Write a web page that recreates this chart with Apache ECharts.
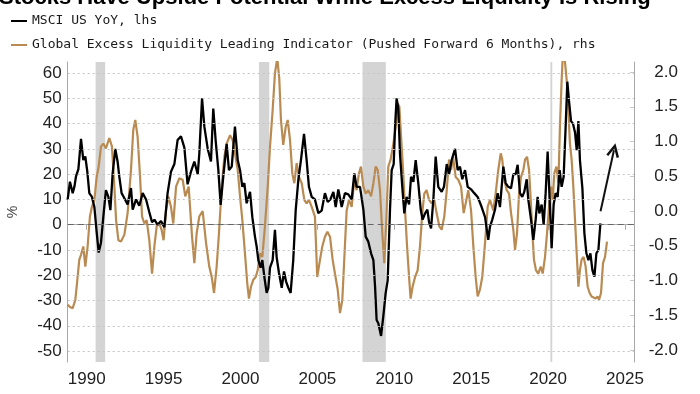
<!DOCTYPE html>
<html><head><meta charset="utf-8">
<script src="https://cdn.jsdelivr.net/npm/echarts@6/dist/echarts.min.js"></script>
<style>html,body{margin:0;padding:0;background:#fff}#c{width:700px;height:394px}</style>
</head><body><div id="c"></div>
<script>
const titleText = 'Stocks Have Upside Potential While Excess Liquidity Is Rising';
const seriesNames = ['MSCI US YoY, lhs', 'Global Excess Liquidity Leading Indicator (Pushed Forward 6 Months), rhs'];
const xTicks = [1990, 1995, 2000, 2005, 2010, 2015, 2020, 2025];
const leftTicks = [-50, -40, -30, -20, -10, 0, 10, 20, 30, 40, 50, 60];
const rightTicks = [-2.0, -1.5, -1.0, -0.5, 0.0, 0.5, 1.0, 1.5, 2.0];
const recessions = [[1990.58, 1991.2], [2001.2, 2001.87], [2007.93, 2009.45], [2020.15, 2020.27]];
const arrowFrom = [2023.41, 5.3];
const arrowTo = [2024.28, 29.5];

// MSCI US YoY (%), [year, value]
const msciData = [
[1988.76,9.8],[1988.91,17],[1989.09,12.5],[1989.20,15],[1989.30,19],[1989.46,22],[1989.63,34],[1989.78,25.6],[1989.91,27],[1990.04,21],
[1990.17,12.5],[1990.34,11],[1990.50,7],[1990.65,-3],[1990.78,-11],[1990.93,-7],[1991.08,3],[1991.25,13.7],[1991.41,11],[1991.54,5.8],
[1991.69,20.4],[1991.86,30],[1992.01,25],[1992.12,19],[1992.27,12.5],[1992.45,10.5],[1992.66,8],[1992.88,14.5],[1992.99,6],[1993.21,10],
[1993.42,7.5],[1993.64,12.5],[1993.86,10],[1994.07,5],[1994.25,1],[1994.40,2],[1994.61,0],[1994.83,1.5],[1995.05,-1],[1995.26,12.5],
[1995.48,21],[1995.70,24],[1995.91,33.5],[1996.13,35],[1996.35,30.5],[1996.56,16],[1996.78,21],[1997.00,25],[1997.22,20],[1997.32,28],
[1997.50,50],[1997.65,38.8],[1997.87,30],[1998.08,25],[1998.23,46],[1998.39,33],[1998.56,21.6],[1998.71,7.8],[1998.88,19],[1999.10,32],
[1999.25,21.6],[1999.43,23],[1999.64,38.8],[1999.82,25.6],[1999.97,21.6],[2000.12,15],[2000.25,16.5],[2000.40,8.5],[2000.62,13],[2000.77,3],
[2000.94,-4.7],[2001.05,-8.6],[2001.16,-14],[2001.31,-17],[2001.42,-14],[2001.55,-20.6],[2001.70,-27],[2001.81,-25],[2001.92,-17],[2002.09,-14],
[2002.24,-2],[2002.35,-12.8],[2002.50,-19],[2002.68,-25],[2002.83,-18.5],[2002.96,-22.4],[2003.11,-25],[2003.26,-27],[2003.43,-14],[2003.59,5.8],
[2003.76,17.7],[2003.93,25.6],[2004.13,36],[2004.30,25.6],[2004.45,15],[2004.63,11],[2004.84,10],[2005.06,4.6],[2005.28,5.6],[2005.49,12.5],
[2005.67,9],[2005.84,10],[2006.04,13],[2006.19,7],[2006.36,14],[2006.58,7],[2006.79,12.5],[2007.01,12],[2007.23,10],[2007.40,20.3],
[2007.55,15],[2007.77,15],[2007.99,6],[2008.14,-4.7],[2008.31,-6.7],[2008.49,-11.3],[2008.64,-14],[2008.75,-24.5],[2008.85,-37.7],[2008.96,-39],
[2009.14,-44],[2009.29,-36],[2009.44,-27],[2009.57,-22],[2009.72,5.8],[2009.83,21.6],[2009.96,24],[2010.05,38.8],[2010.15,50],[2010.26,46],
[2010.37,28],[2010.52,15],[2010.65,4.5],[2010.80,11],[2010.96,8],[2011.09,19],[2011.24,17],[2011.39,25.6],[2011.56,16.5],[2011.72,6],
[2011.84,2],[2012.00,4.5],[2012.15,6],[2012.26,1],[2012.39,-1.5],[2012.54,10],[2012.69,27],[2012.86,15],[2013.08,13],[2013.23,15],
[2013.41,24],[2013.56,20],[2013.73,25.6],[2013.95,30],[2014.12,21.6],[2014.27,23],[2014.42,18],[2014.60,21.6],[2014.77,15],[2014.99,14],
[2015.20,12.5],[2015.42,11],[2015.68,7],[2015.90,3],[2016.11,-6],[2016.22,-0.8],[2016.37,2],[2016.55,6],[2016.72,12.5],[2016.87,7],
[2017.09,23],[2017.24,16.5],[2017.41,15],[2017.59,14.4],[2017.74,20],[2017.89,20],[2018.02,23.7],[2018.17,12.5],[2018.32,11],[2018.45,13],
[2018.61,18],[2018.71,10],[2018.89,2],[2019.04,-6],[2019.19,2],[2019.32,11],[2019.43,4.5],[2019.58,8],[2019.71,0],[2019.84,12.5],
[2019.97,29],[2020.12,7],[2020.23,-9.3],[2020.36,8],[2020.49,12.5],[2020.62,11],[2020.75,21.6],[2020.88,15],[2021.01,19],[2021.14,38.8],
[2021.25,56.6],[2021.36,49],[2021.49,41],[2021.62,40],[2021.75,36.5],[2021.86,29.5],[2021.97,41],[2022.07,25.6],[2022.23,14.4],[2022.36,-3.4],
[2022.49,-11.3],[2022.62,-14],[2022.75,-11.3],[2022.88,-18],[2023.01,-20.6],[2023.14,-11.3],[2023.27,-10],[2023.40,0.5]
];

// Global Excess Liquidity Leading Indicator (rhs), [year, value]
const liqData = [
[1988.76,-1.35],[1988.91,-1.38],[1989.09,-1.40],[1989.26,-1.28],[1989.41,-0.95],[1989.52,-0.70],[1989.63,-0.63],[1989.78,-0.51],[1989.91,-0.80],[1990.06,-0.51],
[1990.21,-0.08],[1990.34,0.06],[1990.50,0.16],[1990.65,0.49],[1990.78,0.64],[1990.93,0.93],[1991.08,0.97],[1991.25,0.90],[1991.47,1.05],[1991.64,0.93],
[1991.80,0.35],[1991.91,-0.13],[1992.06,-0.42],[1992.23,-0.44],[1992.45,-0.34],[1992.66,-0.03],[1992.88,0.59],[1993.03,1.17],[1993.16,1.31],[1993.31,1.07],
[1993.47,0.49],[1993.60,-0.08],[1993.75,-0.18],[1993.90,-0.13],[1994.07,-0.42],[1994.25,-0.90],[1994.40,-0.51],[1994.55,-0.22],[1994.72,-0.18],[1994.87,-0.27],
[1995.00,-0.42],[1995.16,0.01],[1995.31,0.21],[1995.48,0.06],[1995.63,-0.18],[1995.81,0.35],[1996.02,0.47],[1996.24,0.45],[1996.41,0.21],[1996.63,0.35],
[1996.85,-0.37],[1997.00,-0.75],[1997.15,-0.32],[1997.32,-0.08],[1997.54,0.0],[1997.76,-0.46],[1997.97,-0.80],[1998.13,-0.95],[1998.28,-1.18],[1998.45,-0.80],
[1998.60,-0.32],[1998.78,0.35],[1998.95,0.78],[1999.10,0.97],[1999.32,1.09],[1999.49,1.02],[1999.64,0.83],[1999.82,0.59],[1999.97,0.21],[2000.12,-0.13],
[2000.29,-0.61],[2000.44,-1.04],[2000.55,-1.26],[2000.68,-1.09],[2000.83,-0.99],[2000.99,-0.95],[2001.12,-0.85],[2001.27,-0.61],[2001.42,-0.66],[2001.59,-0.22],
[2001.77,0.35],[2001.92,0.93],[2002.09,1.45],[2002.24,1.98],[2002.39,2.2],[2002.52,1.91],[2002.63,1.31],[2002.78,0.95],[2002.94,1.21],[2003.07,1.31],
[2003.22,1.02],[2003.37,0.54],[2003.50,0.40],[2003.65,0.69],[2003.80,0.49],[2003.98,0.40],[2004.15,0.16],[2004.30,0.11],[2004.45,0.16],[2004.63,0.06],
[2004.84,-0.08],[2004.99,-0.95],[2005.17,-0.70],[2005.32,-0.51],[2005.49,-0.37],[2005.65,-0.30],[2005.82,-0.37],[2005.99,-0.70],[2006.14,-0.90],[2006.32,-1.13],
[2006.47,-1.47],[2006.62,-1.28],[2006.79,-0.50],[2006.90,0.0],[2007.05,0.16],[2007.23,0.06],[2007.40,0.45],[2007.55,0.30],[2007.70,0.54],[2007.83,0.64],
[2007.99,0.35],[2008.14,0.25],[2008.31,0.30],[2008.49,0.21],[2008.64,0.40],[2008.79,0.64],[2008.92,0.59],[2009.07,0.30],[2009.22,-0.32],[2009.35,-0.75],
[2009.48,-0.13],[2009.61,0.64],[2009.76,0.74],[2009.94,0.97],[2010.09,1.21],[2010.22,1.55],[2010.33,1.50],[2010.44,1.07],[2010.57,0.59],[2010.70,0.01],
[2010.83,-0.51],[2010.96,-0.95],[2011.06,-1.26],[2011.19,-1.09],[2011.35,-0.95],[2011.52,-0.85],[2011.67,-0.51],[2011.82,-0.03],[2011.95,0.25],[2012.10,0.30],
[2012.26,0.16],[2012.43,0.11],[2012.60,0.16],[2012.75,-0.03],[2012.93,-0.22],[2013.08,-0.27],[2013.25,-0.08],[2013.41,0.30],[2013.56,0.74],[2013.69,0.59],
[2013.82,0.78],[2013.99,0.49],[2014.16,0.45],[2014.34,0.35],[2014.51,-0.03],[2014.64,0.11],[2014.81,0.30],[2014.99,0.01],[2015.14,-0.51],[2015.29,-0.95],
[2015.42,-1.23],[2015.57,-1.13],[2015.72,-0.95],[2015.90,-0.46],[2016.07,0.06],[2016.22,0.16],[2016.29,0.11],[2016.44,0.01],[2016.59,0.25],[2016.76,0.59],
[2016.92,0.83],[2017.02,0.74],[2017.15,0.45],[2017.31,0.30],[2017.46,0.25],[2017.59,-0.03],[2017.74,-0.27],[2017.85,-0.56],[2017.98,-0.32],[2018.11,0.25],
[2018.24,0.49],[2018.39,0.59],[2018.50,0.74],[2018.63,0.78],[2018.76,0.59],[2018.87,0.16],[2018.97,-0.27],[2019.08,-0.70],[2019.21,-0.85],[2019.36,-0.90],
[2019.52,-0.80],[2019.65,-0.90],[2019.80,-0.66],[2019.93,-0.32],[2020.06,0.06],[2020.19,0.35],[2020.30,0.16],[2020.40,0.54],[2020.54,0.64],[2020.67,0.40],
[2020.77,1.21],[2020.88,1.88],[2020.99,2.4],[2021.10,2.4],[2021.21,1.88],[2021.32,1.45],[2021.42,0.97],[2021.53,0.74],[2021.64,0.35],[2021.75,-0.13],
[2021.86,-0.61],[2021.97,-1.09],[2022.07,-0.85],[2022.18,-0.70],[2022.31,-0.66],[2022.44,-0.80],[2022.57,-1.09],[2022.70,-1.18],[2022.83,-1.23],[2022.96,-1.21],
[2023.09,-1.26],[2023.22,-1.23],[2023.31,-1.28],[2023.44,-1.18],[2023.57,-0.75],[2023.70,-0.66],[2023.83,-0.44]
];

const chart = echarts.init(document.getElementById('c'), null, {renderer: 'canvas'});
const labelFont = 'Liberation Sans';
const gridLineData = leftTicks.map(v => v === 0
  ? {yAxis: v, lineStyle: {color: '#666', type: [6, 4], width: 1}}
  : {yAxis: v, lineStyle: {color: '#c4c4c4', type: [2, 3], width: 1}});

chart.setOption({
  animation: false,
  backgroundColor: '#fff',
  graphic: [{
    type: 'text', left: -1, top: -13, silent: true,
    style: {text: titleText, font: 'bold 22px "Liberation Sans"', fill: '#000'}
  }],
  legend: {
    data: seriesNames.slice(),
    orient: 'vertical', left: 6, top: 8,
    icon: 'rect', itemWidth: 16, itemHeight: 2, itemGap: 8,
    selectedMode: false,
    textStyle: {fontFamily: 'DejaVu Sans Mono', fontSize: 13, color: '#1a1a1a', lineHeight: 16}
  },
  grid: {left: 67.7, right: 66, top: 62, bottom: 32, containLabel: false, outerBoundsMode: 'none'},
  xAxis: {
    type: 'value', min: 1988.765, max: 2025.585,
    axisLine: {show: true, lineStyle: {color: '#a8a8a8'}},
    axisTick: {show: true, customValues: xTicks, length: 5, lineStyle: {color: '#a8a8a8'}},
    axisLabel: {customValues: xTicks, formatter: v => String(Math.round(v)), fontFamily: labelFont, fontSize: 17, color: '#222', margin: 9},
    splitLine: {show: false}
  },
  yAxis: [{
    type: 'value', position: 'left', min: -54.33, max: 64.4,
    name: '%', nameLocation: 'middle', nameRotate: 90, nameGap: 48,
    nameTextStyle: {fontFamily: labelFont, fontSize: 14, color: '#444'},
    axisLine: {show: true, lineStyle: {color: '#a8a8a8'}},
    axisTick: {show: false},
    axisLabel: {customValues: leftTicks, formatter: v => String(Math.round(v)), fontFamily: labelFont, fontSize: 17, color: '#222', margin: 6},
    splitLine: {show: false}
  }, {
    type: 'value', position: 'right', min: -2.173, max: 2.144,
    axisLine: {show: true, lineStyle: {color: '#a8a8a8'}},
    axisTick: {show: true, inside: true, length: 4, customValues: rightTicks, lineStyle: {color: '#c8c8c8'}},
    axisLabel: {customValues: rightTicks, formatter: v => v.toFixed(1), fontFamily: labelFont, fontSize: 17, color: '#222', align: 'right', margin: 44},
    splitLine: {show: false}
  }],
  series: [{
    type: 'line', name: '_bg', data: [], xAxisIndex: 0, yAxisIndex: 0, silent: true, z: 1,
    markArea: {silent: true, itemStyle: {color: '#d4d4d4'},
      data: recessions.map(r => [{xAxis: r[0]}, {xAxis: r[1]}])},
    markLine: {silent: true, symbol: 'none', label: {show: false}, emphasis: {disabled: true}, data: gridLineData}
  }, {
    type: 'line', name: seriesNames[1], data: liqData, yAxisIndex: 1, z: 2,
    showSymbol: false, symbol: 'none', clip: true,
    lineStyle: {color: '#b98b52', width: 2.2}, itemStyle: {color: '#b98b52'}
  }, {
    type: 'line', name: seriesNames[0], data: msciData, yAxisIndex: 0, z: 3,
    showSymbol: false, symbol: 'none', clip: true,
    lineStyle: {color: '#000', width: 2.3}, itemStyle: {color: '#000'},
    markLine: {
      silent: true, label: {show: false}, emphasis: {disabled: true},
      symbol: ['none', 'path://M5,0 L10,11 L8.3,12 L5,4.5 L1.7,12 L0,11 Z'],
      symbolSize: [13, 14], symbolOffset: [0, 0],
      lineStyle: {color: '#111', width: 2, type: 'solid'},
      data: [[{coord: arrowFrom}, {coord: arrowTo}]]
    }
  }]
});
</script>
</body></html>
